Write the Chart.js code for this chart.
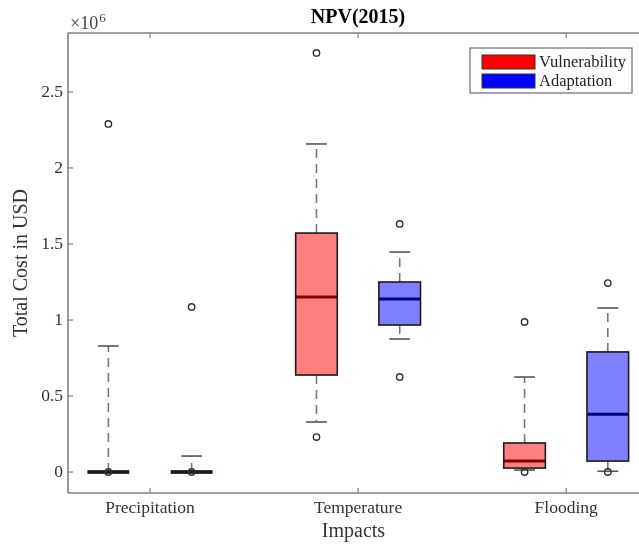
<!DOCTYPE html>
<html>
<head>
<meta charset="utf-8">
<script src="https://cdn.jsdelivr.net/npm/chart.js@4.4.1/dist/chart.umd.min.js"></script>
<style>
  html, body { margin: 0; padding: 0; background: #fff; }
  #wrap { width: 639px; height: 544px; }
</style>
</head>
<body>
<div id="wrap"><canvas id="npv"></canvas></div>
<script>
// categories on the x axis
const categories = ['Precipitation', 'Temperature', 'Flooding'];

// Vulnerability boxes (USD)
const vulnLow    = [0,      329000,  13000];
const vulnQ1     = [0,      638000,  26000];
const vulnMedian = [0,     1151000,  72000];
const vulnQ3     = [0,     1572000, 191000];
const vulnHigh   = [829000, 2158000, 625000];
const vulnOutliers = [[0, 2290000], [230000, 2757000], [0, 987000]];

// Adaptation boxes (USD)
const adaptLow    = [0,      875000,    5000];
const adaptQ1     = [0,      967000,   72000];
const adaptMedian = [0,     1138000,  380000];
const adaptQ3     = [0,     1250000,  790000];
const adaptHigh   = [105000, 1447000, 1079000];
const adaptOutliers = [[0, 1086000], [625000, 1632000], [0, 1243000]];

// tick labels
const xTickValues = [1, 2, 3];
const yTickValues = [0, 500000, 1000000, 1500000, 2000000, 2500000];

const serif = '"Liberation Serif", "Times New Roman", serif';
const boxWidth = 0.2, capWidth = 0.1;

const series = [
  { label: 'Vulnerability', offset: -0.2, swatch: '#ff0000', fill: '#ff7f7f', median: '#800000',
    low: vulnLow, q1: vulnQ1, med: vulnMedian, q3: vulnQ3, high: vulnHigh, outliers: vulnOutliers },
  { label: 'Adaptation', offset: 0.2, swatch: '#0000ff', fill: '#7f7fff', median: '#000080',
    low: adaptLow, q1: adaptQ1, med: adaptMedian, q3: adaptQ3, high: adaptHigh, outliers: adaptOutliers }
];

// outlier circles go through a normal scatter dataset
const datasets = series.map(s => ({
  label: s.label,
  data: s.outliers.flatMap((vals, i) => vals.map(v => ({ x: xTickValues[i] + s.offset, y: v }))),
  pointStyle: 'circle',
  pointRadius: 3.2,
  pointBackgroundColor: 'rgba(0,0,0,0)',
  pointBorderColor: '#333',
  pointBorderWidth: 1.4,
  showLine: false
}));

function hLine(ctx, x0, x1, yy) {
  ctx.beginPath(); ctx.moveTo(x0, yy); ctx.lineTo(x1, yy); ctx.stroke();
}
function vLine(ctx, xx, y0, y1) {
  ctx.beginPath(); ctx.moveTo(xx, y0); ctx.lineTo(xx, y1); ctx.stroke();
}

// whiskers, boxes and medians, drawn under the outliers
const boxPlugin = {
  id: 'boxes',
  beforeDatasetsDraw(chart) {
    const { ctx, scales: { x, y } } = chart;
    ctx.save();
    series.forEach(s => {
      categories.forEach((c, i) => {
        const pos = xTickValues[i] + s.offset;
        const xc = x.getPixelForValue(pos);
        const xl = x.getPixelForValue(pos - boxWidth / 2);
        const xr = x.getPixelForValue(pos + boxWidth / 2);
        const cl = x.getPixelForValue(pos - capWidth / 2);
        const cr = x.getPixelForValue(pos + capWidth / 2);
        const yLow = y.getPixelForValue(s.low[i]);
        const yQ1 = y.getPixelForValue(s.q1[i]);
        const yMed = y.getPixelForValue(s.med[i]);
        const yQ3 = y.getPixelForValue(s.q3[i]);
        const yHigh = y.getPixelForValue(s.high[i]);

        // dashed whiskers
        ctx.strokeStyle = '#777';
        ctx.lineWidth = 1.6;
        ctx.setLineDash([9, 6]);
        vLine(ctx, xc, yQ3, yHigh);
        vLine(ctx, xc, yQ1, yLow);
        ctx.setLineDash([]);
        // caps
        ctx.strokeStyle = '#555';
        hLine(ctx, cl, cr, yHigh);
        hLine(ctx, cl, cr, yLow);

        // box
        const flat = Math.abs(yQ1 - yQ3) < 1;
        ctx.fillStyle = s.fill;
        ctx.fillRect(xl, yQ3, xr - xl, yQ1 - yQ3);
        ctx.strokeStyle = s.median;
        ctx.lineWidth = 3;
        hLine(ctx, xl, xr, yMed);
        ctx.strokeStyle = '#1a1a1a';
        ctx.lineWidth = flat ? 3.6 : 1.6;
        ctx.strokeRect(xl, yQ3, xr - xl, yQ1 - yQ3);
      });
    });
    ctx.restore();
  },
  afterDraw(chart) {
    const { ctx, chartArea: a, scales: { x, y } } = chart;
    ctx.save();
    // axes frame (top, left, bottom) with inward ticks
    ctx.strokeStyle = '#808080';
    ctx.lineWidth = 1.6;
    hLine(ctx, a.left, a.right, a.top);
    hLine(ctx, a.left, a.right, a.bottom);
    vLine(ctx, a.left, a.top, a.bottom);
    ctx.lineWidth = 1.2;
    xTickValues.forEach(v => {
      const px = x.getPixelForValue(v);
      vLine(ctx, px, a.top, a.top + 5);
      vLine(ctx, px, a.bottom, a.bottom - 5);
    });
    yTickValues.forEach(v => {
      const py = y.getPixelForValue(v);
      hLine(ctx, a.left, a.left + 5, py);
    });

    // title
    ctx.fillStyle = '#000';
    ctx.font = 'bold 20px ' + serif;
    ctx.textAlign = 'center';
    ctx.textBaseline = 'middle';
    ctx.fillText('NPV(2015)', 358, 18);

    // exponent label
    ctx.fillStyle = '#444';
    ctx.textAlign = 'left';
    ctx.textBaseline = 'alphabetic';
    ctx.font = '18px ' + serif;
    ctx.fillText('\u00d710', a.left + 2, 29);
    const w = ctx.measureText('\u00d710').width;
    ctx.font = '13px ' + serif;
    ctx.fillText('6', a.left + 3 + w, 22);

    // legend box
    const lw = 162, lh = 45;
    const lx = a.right - 7 - lw, ly = a.top + 15;
    ctx.fillStyle = '#fff';
    ctx.fillRect(lx, ly, lw, lh);
    ctx.strokeStyle = '#808080';
    ctx.lineWidth = 1.4;
    ctx.strokeRect(lx, ly, lw, lh);
    series.forEach((s, k) => {
      const sy = ly + 7 + k * 19;
      ctx.fillStyle = s.swatch;
      ctx.fillRect(lx + 12, sy, 53, 14);
      ctx.strokeStyle = '#333';
      ctx.lineWidth = 1;
      ctx.strokeRect(lx + 12, sy, 53, 14);
      ctx.fillStyle = '#222';
      ctx.font = '16.5px ' + serif;
      ctx.textBaseline = 'middle';
      ctx.fillText(s.label, lx + 69, sy + 7.5);
    });
    ctx.restore();
  }
};

new Chart(document.getElementById('npv'), {
  type: 'scatter',
  data: { datasets },
  plugins: [boxPlugin],
  options: {
    responsive: true,
    maintainAspectRatio: false,
    animation: false,
    layout: { autoPadding: false, padding: { top: 33, right: 0, left: 0, bottom: 0 } },
    plugins: { legend: { display: false }, tooltip: { enabled: false } },
    scales: {
      x: {
        type: 'linear',
        min: 0.606,
        max: 3.35,
        afterBuildTicks: s => { s.ticks = xTickValues.map(v => ({ value: v })); },
        afterFit: s => { s.height = 51; },
        grid: { display: false, drawTicks: false },
        border: { display: false },
        ticks: {
          padding: 5,
          color: '#333',
          maxRotation: 0,
          font: { family: serif, size: 17.5 },
          callback: v => categories[Math.round(v) - 1]
        },
        title: {
          display: true,
          text: 'Impacts',
          color: '#333',
          font: { family: serif, size: 20 },
          padding: { top: 0, bottom: 0 }
        }
      },
      y: {
        min: -138000,
        max: 2888000,
        afterBuildTicks: s => { s.ticks = yTickValues.map(v => ({ value: v })); },
        afterFit: s => { s.width = 68; },
        grid: { display: false, drawTicks: false },
        border: { display: false },
        ticks: {
          padding: 5,
          color: '#333',
          font: { family: serif, size: 17.5 },
          callback: v => String(v / 1e6)
        },
        title: {
          display: true,
          text: 'Total Cost in USD',
          color: '#333',
          font: { family: serif, size: 20 },
          padding: { top: 10, bottom: 0 }
        }
      }
    }
  }
});
</script>
</body>
</html>
